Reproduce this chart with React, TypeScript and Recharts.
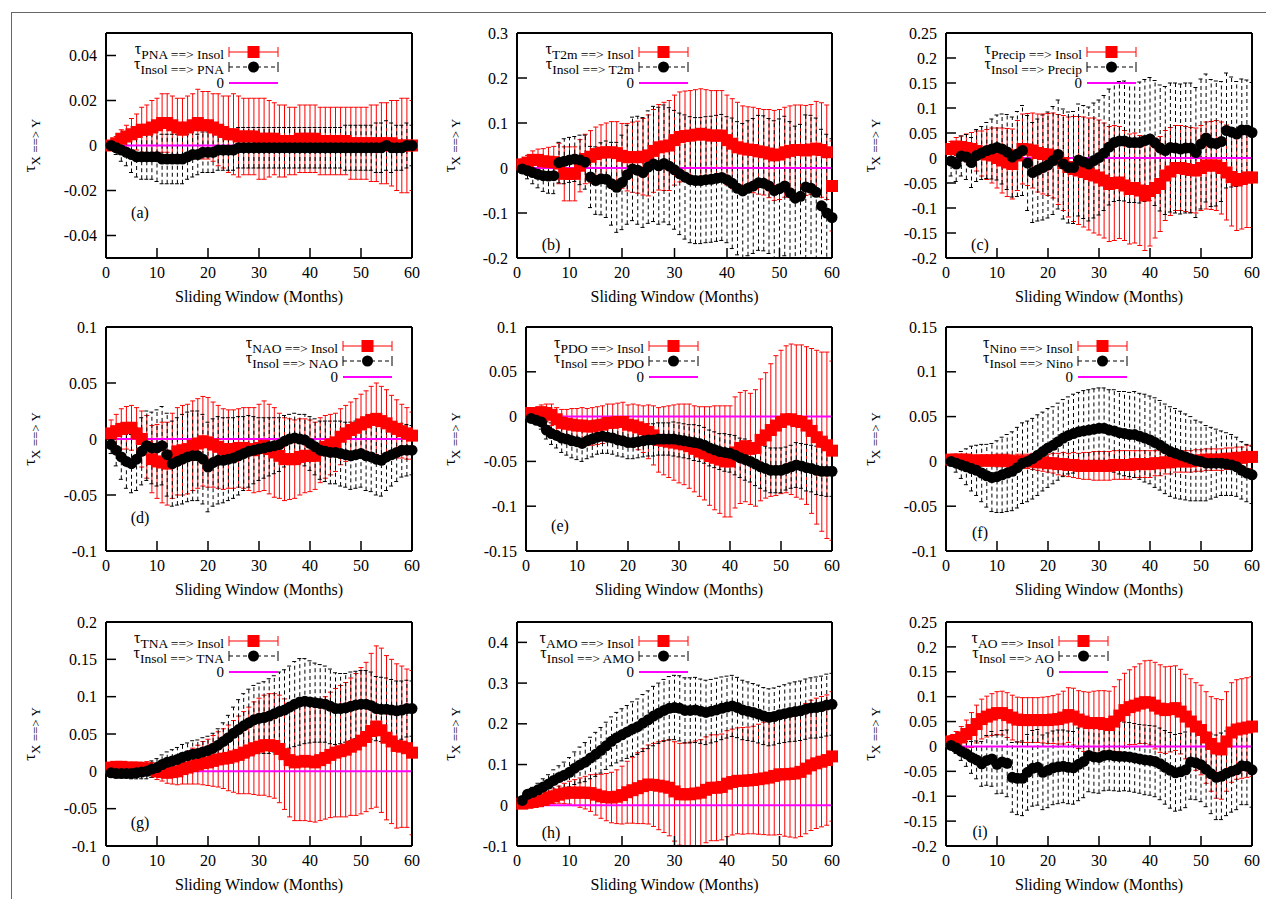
import React from 'react';
import { ComposedChart, Line, XAxis, YAxis, ErrorBar, ReferenceLine } from 'recharts';

// sliding window lengths (months)
const months = [
  1, 2, 3, 4, 5, 6, 7, 8, 9, 10, 11, 12, 13, 14, 15, 16, 17, 18, 19, 20,
  21, 22, 23, 24, 25, 26, 27, 28, 29, 30, 31, 32, 33, 34, 35, 36, 37, 38, 39, 40,
  41, 42, 43, 44, 45, 46, 47, 48, 49, 50, 51, 52, 53, 54, 55, 56, 57, 58, 59, 60,
];
const xTicks = [0, 10, 20, 30, 40, 50, 60];

// (a) PNA
const redA = [
  0.000, 0.001, 0.003, 0.004, 0.005, 0.006, 0.007, 0.007, 0.008, 0.009,
  0.010, 0.010, 0.009, 0.008, 0.007, 0.008, 0.009, 0.010, 0.009, 0.009,
  0.008, 0.007, 0.006, 0.005, 0.005, 0.004, 0.004, 0.004, 0.004, 0.003,
  0.003, 0.003, 0.003, 0.002, 0.002, 0.002, 0.002, 0.003, 0.003, 0.003,
  0.003, 0.002, 0.002, 0.002, 0.002, 0.002, 0.002, 0.001, 0.001, 0.001,
  0.001, 0.001, 0.001, 0.001, 0.001, 0.001, 0.000, 0.000, 0.000, 0.000,
];
const redErrA = [
  0.002, 0.003, 0.004, 0.005, 0.007, 0.008, 0.010, 0.011, 0.012, 0.012,
  0.013, 0.013, 0.013, 0.013, 0.014, 0.014, 0.014, 0.015, 0.015, 0.015,
  0.015, 0.016, 0.016, 0.017, 0.018, 0.018, 0.017, 0.017, 0.017, 0.018,
  0.018, 0.017, 0.016, 0.016, 0.016, 0.015, 0.015, 0.015, 0.015, 0.015,
  0.015, 0.015, 0.015, 0.015, 0.015, 0.015, 0.015, 0.016, 0.016, 0.016,
  0.016, 0.017, 0.017, 0.018, 0.018, 0.019, 0.020, 0.021, 0.021, 0.020,
];
const blackA = [
  0.000, -0.001, -0.002, -0.003, -0.004, -0.005, -0.005, -0.005, -0.005, -0.005,
  -0.006, -0.006, -0.006, -0.006, -0.006, -0.005, -0.004, -0.004, -0.003, -0.003,
  -0.003, -0.002, -0.002, -0.002, -0.002, -0.001, -0.001, -0.001, -0.001, -0.001,
  -0.001, -0.001, -0.001, -0.001, -0.001, -0.001, -0.001, -0.001, -0.001, -0.001,
  -0.001, -0.001, -0.001, -0.001, -0.001, -0.001, -0.001, -0.001, -0.001, -0.001,
  -0.001, -0.001, -0.001, -0.001, 0.000, -0.001, -0.001, -0.001, 0.000, 0.000,
];
const blackErrA = [
  0.002, 0.003, 0.005, 0.006, 0.008, 0.009, 0.010, 0.010, 0.010, 0.011,
  0.011, 0.011, 0.011, 0.011, 0.011, 0.010, 0.010, 0.009, 0.009, 0.009,
  0.009, 0.009, 0.009, 0.009, 0.009, 0.009, 0.009, 0.009, 0.009, 0.009,
  0.009, 0.009, 0.009, 0.009, 0.009, 0.009, 0.009, 0.009, 0.009, 0.009,
  0.009, 0.009, 0.009, 0.009, 0.009, 0.009, 0.010, 0.010, 0.010, 0.010,
  0.010, 0.010, 0.011, 0.011, 0.011, 0.011, 0.010, 0.010, 0.010, 0.009,
];

// (b) T2m
const redB = [
  0.008, 0.012, 0.018, 0.018, 0.015, 0.014, 0.013, 0.010, -0.013, -0.013,
  -0.013, 0.005, 0.020, 0.025, 0.031, 0.034, 0.035, 0.035, 0.033, 0.027,
  0.024, 0.024, 0.024, 0.025, 0.028, 0.038, 0.046, 0.048, 0.050, 0.062,
  0.069, 0.071, 0.072, 0.074, 0.076, 0.074, 0.072, 0.072, 0.072, 0.062,
  0.054, 0.046, 0.043, 0.041, 0.040, 0.037, 0.035, 0.032, 0.028, 0.030,
  0.035, 0.038, 0.040, 0.040, 0.039, 0.041, 0.043, 0.040, 0.035, -0.040,
];
const redErrB = [
  0.012, 0.016, 0.020, 0.024, 0.028, 0.032, 0.035, 0.045, 0.060, 0.060,
  0.060, 0.058, 0.055, 0.058, 0.060, 0.062, 0.065, 0.068, 0.070, 0.072,
  0.075, 0.078, 0.080, 0.085, 0.090, 0.092, 0.095, 0.098, 0.100, 0.100,
  0.100, 0.100, 0.100, 0.100, 0.100, 0.100, 0.100, 0.100, 0.100, 0.100,
  0.100, 0.100, 0.095, 0.095, 0.095, 0.095, 0.095, 0.098, 0.100, 0.100,
  0.100, 0.100, 0.100, 0.100, 0.100, 0.100, 0.105, 0.105, 0.105, 0.100,
];
const blackB = [
  -0.002, -0.006, -0.010, -0.014, -0.017, -0.018, -0.017, 0.012, 0.015, 0.018,
  0.020, 0.018, 0.013, -0.020, -0.028, -0.024, -0.025, -0.035, -0.043, -0.032,
  -0.015, -0.002, -0.005, -0.010, 0.002, 0.009, 0.005, 0.010, 0.004, -0.004,
  -0.013, -0.020, -0.026, -0.028, -0.028, -0.026, -0.025, -0.023, -0.021, -0.026,
  -0.034, -0.045, -0.051, -0.045, -0.040, -0.033, -0.034, -0.040, -0.050, -0.046,
  -0.040, -0.055, -0.067, -0.063, -0.042, -0.045, -0.054, -0.084, -0.100, -0.110,
];
const blackErrB = [
  0.010, 0.018, 0.025, 0.030, 0.035, 0.038, 0.040, 0.045, 0.050, 0.050,
  0.050, 0.055, 0.060, 0.068, 0.075, 0.080, 0.085, 0.092, 0.100, 0.105,
  0.110, 0.115, 0.120, 0.122, 0.125, 0.128, 0.130, 0.130, 0.130, 0.132,
  0.135, 0.138, 0.140, 0.140, 0.140, 0.140, 0.140, 0.140, 0.140, 0.140,
  0.145, 0.148, 0.150, 0.150, 0.150, 0.150, 0.150, 0.150, 0.155, 0.155,
  0.155, 0.158, 0.160, 0.160, 0.160, 0.162, 0.165, 0.170, 0.175, 0.175,
];

// (c) Precip
const redC = [
  0.018, 0.023, 0.022, 0.020, 0.018, 0.014, 0.009, 0.007, 0.005, 0.000,
  -0.005, -0.009, -0.012, 0.005, 0.018, 0.017, 0.015, 0.010, 0.008, 0.007,
  0.005, -0.003, -0.010, -0.018, -0.022, -0.025, -0.028, -0.032, -0.035, -0.039,
  -0.045, -0.052, -0.050, -0.049, -0.055, -0.062, -0.060, -0.065, -0.075, -0.066,
  -0.060, -0.052, -0.035, -0.027, -0.020, -0.020, -0.022, -0.024, -0.025, -0.020,
  -0.015, -0.015, -0.015, -0.020, -0.029, -0.038, -0.045, -0.042, -0.039, -0.039,
];
const redErrC = [
  0.015, 0.018, 0.022, 0.028, 0.033, 0.040, 0.045, 0.050, 0.055, 0.060,
  0.065, 0.068, 0.070, 0.070, 0.070, 0.072, 0.075, 0.078, 0.080, 0.082,
  0.085, 0.090, 0.095, 0.100, 0.105, 0.108, 0.110, 0.112, 0.115, 0.115,
  0.115, 0.115, 0.115, 0.112, 0.110, 0.110, 0.110, 0.110, 0.110, 0.110,
  0.100, 0.095, 0.090, 0.088, 0.085, 0.085, 0.085, 0.085, 0.085, 0.085,
  0.087, 0.088, 0.090, 0.092, 0.095, 0.098, 0.100, 0.100, 0.100, 0.100,
];
const blackC = [
  -0.006, -0.012, 0.004, 0.002, -0.009, 0.005, 0.010, 0.015, 0.018, 0.021,
  0.018, 0.012, 0.002, 0.008, 0.015, -0.010, -0.029, -0.024, -0.019, -0.014,
  -0.005, 0.007, -0.012, -0.019, -0.019, -0.004, -0.008, -0.012, -0.005, 0.001,
  0.010, 0.022, 0.031, 0.034, 0.034, 0.031, 0.031, 0.031, 0.035, 0.038,
  0.030, 0.020, 0.015, 0.021, 0.020, 0.018, 0.020, 0.020, 0.011, 0.028,
  0.040, 0.030, 0.029, 0.033, 0.055, 0.052, 0.048, 0.056, 0.056, 0.051,
];
const blackErrC = [
  0.030, 0.035, 0.040, 0.045, 0.050, 0.052, 0.053, 0.056, 0.060, 0.065,
  0.070, 0.075, 0.080, 0.085, 0.090, 0.095, 0.100, 0.102, 0.105, 0.106,
  0.108, 0.109, 0.110, 0.111, 0.112, 0.112, 0.113, 0.114, 0.115, 0.115,
  0.115, 0.116, 0.118, 0.119, 0.120, 0.120, 0.120, 0.121, 0.122, 0.123,
  0.125, 0.126, 0.128, 0.129, 0.130, 0.130, 0.130, 0.130, 0.130, 0.130,
  0.128, 0.127, 0.125, 0.120, 0.115, 0.110, 0.105, 0.102, 0.100, 0.100,
];

// (d) NAO
const redD = [
  0.005, 0.007, 0.009, 0.010, 0.010, 0.005, 0.000, -0.007, -0.018, -0.020,
  -0.021, -0.022, -0.015, -0.011, -0.010, -0.009, -0.006, -0.004, -0.002, -0.003,
  -0.005, -0.007, -0.009, -0.009, -0.009, -0.008, -0.008, -0.009, -0.010, -0.008,
  -0.006, -0.009, -0.012, -0.015, -0.018, -0.018, -0.018, -0.016, -0.015, -0.015,
  -0.015, -0.010, -0.007, -0.005, -0.003, 0.002, 0.005, 0.008, 0.010, 0.013,
  0.015, 0.017, 0.018, 0.016, 0.014, 0.011, 0.009, 0.007, 0.005, 0.003,
];
const redErrD = [
  0.012, 0.015, 0.018, 0.019, 0.020, 0.023, 0.025, 0.028, 0.030, 0.033,
  0.036, 0.037, 0.038, 0.039, 0.040, 0.040, 0.040, 0.040, 0.040, 0.040,
  0.038, 0.037, 0.036, 0.035, 0.035, 0.035, 0.036, 0.037, 0.038, 0.039,
  0.040, 0.040, 0.040, 0.038, 0.037, 0.036, 0.035, 0.034, 0.033, 0.032,
  0.030, 0.029, 0.028, 0.027, 0.026, 0.025, 0.025, 0.025, 0.026, 0.027,
  0.028, 0.030, 0.032, 0.031, 0.030, 0.028, 0.026, 0.024, 0.023, 0.021,
];
const blackD = [
  -0.005, -0.010, -0.016, -0.020, -0.022, -0.018, -0.011, -0.006, -0.008, -0.008,
  -0.006, -0.014, -0.022, -0.020, -0.018, -0.016, -0.015, -0.015, -0.018, -0.025,
  -0.021, -0.019, -0.019, -0.018, -0.017, -0.015, -0.013, -0.011, -0.010, -0.009,
  -0.008, -0.007, -0.006, -0.005, -0.002, 0.000, 0.001, 0.000, -0.001, -0.004,
  -0.007, -0.010, -0.011, -0.012, -0.012, -0.013, -0.014, -0.015, -0.014, -0.013,
  -0.015, -0.016, -0.018, -0.019, -0.016, -0.014, -0.012, -0.010, -0.010, -0.010,
];
const blackErrD = [
  0.008, 0.014, 0.020, 0.024, 0.026, 0.028, 0.030, 0.031, 0.032, 0.034,
  0.035, 0.037, 0.038, 0.039, 0.040, 0.040, 0.040, 0.040, 0.040, 0.040,
  0.039, 0.039, 0.038, 0.037, 0.036, 0.035, 0.033, 0.032, 0.030, 0.028,
  0.027, 0.026, 0.025, 0.024, 0.023, 0.022, 0.022, 0.022, 0.023, 0.024,
  0.025, 0.026, 0.027, 0.028, 0.028, 0.029, 0.029, 0.030, 0.030, 0.030,
  0.031, 0.031, 0.032, 0.032, 0.030, 0.028, 0.026, 0.024, 0.023, 0.022,
];

// (e) PDO
const redE = [
  0.004, 0.004, 0.005, 0.004, 0.002, -0.003, -0.007, -0.008, -0.009, -0.010,
  -0.010, -0.011, -0.011, -0.010, -0.009, -0.007, -0.007, -0.006, -0.006, -0.009,
  -0.010, -0.012, -0.014, -0.017, -0.021, -0.026, -0.027, -0.028, -0.029, -0.030,
  -0.031, -0.033, -0.036, -0.039, -0.041, -0.044, -0.046, -0.048, -0.050, -0.050,
  -0.040, -0.035, -0.033, -0.036, -0.035, -0.026, -0.021, -0.015, -0.010, -0.006,
  -0.003, -0.003, -0.005, -0.006, -0.010, -0.016, -0.023, -0.028, -0.032, -0.038,
];
const redErrE = [
  0.004, 0.006, 0.008, 0.010, 0.012, 0.013, 0.015, 0.016, 0.018, 0.019,
  0.020, 0.020, 0.021, 0.021, 0.021, 0.021, 0.021, 0.021, 0.022, 0.022,
  0.024, 0.025, 0.026, 0.030, 0.033, 0.036, 0.038, 0.040, 0.042, 0.044,
  0.045, 0.047, 0.048, 0.050, 0.052, 0.055, 0.058, 0.060, 0.062, 0.062,
  0.062, 0.062, 0.062, 0.062, 0.065, 0.068, 0.070, 0.074, 0.078, 0.080,
  0.082, 0.084, 0.085, 0.086, 0.088, 0.092, 0.097, 0.100, 0.104, 0.100,
];
const blackE = [
  -0.002, -0.004, -0.006, -0.015, -0.019, -0.021, -0.024, -0.025, -0.027, -0.028,
  -0.030, -0.027, -0.025, -0.023, -0.022, -0.023, -0.024, -0.026, -0.027, -0.029,
  -0.029, -0.028, -0.027, -0.026, -0.026, -0.025, -0.025, -0.025, -0.025, -0.026,
  -0.027, -0.028, -0.029, -0.030, -0.032, -0.035, -0.037, -0.039, -0.040, -0.041,
  -0.043, -0.046, -0.048, -0.050, -0.053, -0.056, -0.058, -0.060, -0.060, -0.060,
  -0.058, -0.056, -0.054, -0.055, -0.057, -0.058, -0.060, -0.061, -0.061, -0.061,
];
const blackErrE = [
  0.003, 0.005, 0.008, 0.010, 0.012, 0.014, 0.016, 0.018, 0.019, 0.020,
  0.020, 0.020, 0.020, 0.019, 0.019, 0.018, 0.018, 0.018, 0.018, 0.018,
  0.018, 0.018, 0.018, 0.018, 0.018, 0.018, 0.018, 0.018, 0.019, 0.019,
  0.019, 0.019, 0.020, 0.020, 0.020, 0.020, 0.020, 0.020, 0.021, 0.021,
  0.022, 0.022, 0.023, 0.023, 0.024, 0.024, 0.025, 0.025, 0.025, 0.025,
  0.024, 0.024, 0.025, 0.025, 0.026, 0.026, 0.027, 0.027, 0.028, 0.028,
];

// (f) Nino
const redF = [
  0.002, 0.002, 0.002, 0.002, 0.001, 0.001, 0.001, 0.001, 0.001, 0.001,
  0.001, 0.001, 0.000, 0.000, 0.000, 0.000, 0.000, -0.001, -0.001, -0.002,
  -0.002, -0.003, -0.003, -0.004, -0.004, -0.005, -0.005, -0.005, -0.005, -0.005,
  -0.005, -0.005, -0.004, -0.004, -0.004, -0.004, -0.003, -0.003, -0.003, -0.003,
  -0.002, -0.002, -0.001, -0.001, 0.000, 0.000, 0.000, 0.000, 0.001, 0.001,
  0.002, 0.002, 0.002, 0.002, 0.003, 0.003, 0.004, 0.004, 0.005, 0.005,
];
const redErrF = [
  0.003, 0.003, 0.004, 0.004, 0.005, 0.005, 0.006, 0.006, 0.006, 0.007,
  0.007, 0.007, 0.007, 0.008, 0.008, 0.008, 0.009, 0.009, 0.010, 0.010,
  0.011, 0.012, 0.013, 0.013, 0.014, 0.014, 0.015, 0.015, 0.016, 0.016,
  0.016, 0.016, 0.016, 0.016, 0.016, 0.016, 0.015, 0.015, 0.015, 0.015,
  0.014, 0.014, 0.013, 0.013, 0.012, 0.012, 0.012, 0.012, 0.012, 0.012,
  0.012, 0.012, 0.012, 0.012, 0.012, 0.012, 0.012, 0.012, 0.013, 0.013,
];
const blackF = [
  0.000, -0.002, -0.004, -0.006, -0.008, -0.010, -0.013, -0.016, -0.018, -0.017,
  -0.015, -0.013, -0.011, -0.007, -0.002, 0.000, 0.003, 0.007, 0.011, 0.015,
  0.018, 0.022, 0.026, 0.029, 0.031, 0.033, 0.034, 0.035, 0.036, 0.037,
  0.037, 0.035, 0.034, 0.032, 0.031, 0.030, 0.030, 0.028, 0.026, 0.024,
  0.021, 0.018, 0.014, 0.011, 0.009, 0.007, 0.005, 0.003, 0.001, 0.000,
  -0.002, -0.002, -0.002, -0.002, -0.003, -0.004, -0.006, -0.010, -0.013, -0.015,
];
const blackErrF = [
  0.005, 0.010, 0.015, 0.020, 0.025, 0.028, 0.032, 0.035, 0.038, 0.040,
  0.042, 0.043, 0.044, 0.045, 0.045, 0.045, 0.045, 0.045, 0.044, 0.044,
  0.043, 0.043, 0.043, 0.043, 0.044, 0.044, 0.045, 0.045, 0.045, 0.045,
  0.045, 0.045, 0.046, 0.046, 0.047, 0.047, 0.048, 0.048, 0.049, 0.049,
  0.050, 0.050, 0.050, 0.050, 0.050, 0.049, 0.048, 0.047, 0.045, 0.044,
  0.042, 0.040, 0.038, 0.036, 0.035, 0.034, 0.033, 0.032, 0.032, 0.032,
];

// (g) TNA
const redG = [
  0.005, 0.006, 0.006, 0.005, 0.005, 0.005, 0.004, 0.004, 0.002, 0.000,
  -0.001, -0.002, -0.001, 0.000, 0.003, 0.005, 0.007, 0.009, 0.011, 0.012,
  0.014, 0.016, 0.017, 0.018, 0.020, 0.022, 0.025, 0.028, 0.031, 0.033,
  0.035, 0.035, 0.034, 0.030, 0.023, 0.015, 0.012, 0.013, 0.014, 0.013,
  0.012, 0.015, 0.018, 0.022, 0.025, 0.027, 0.029, 0.033, 0.036, 0.041,
  0.046, 0.054, 0.060, 0.055, 0.045, 0.040, 0.034, 0.033, 0.031, 0.025,
];
const redErrG = [
  0.003, 0.004, 0.005, 0.005, 0.006, 0.007, 0.008, 0.009, 0.010, 0.011,
  0.012, 0.014, 0.016, 0.018, 0.020, 0.022, 0.024, 0.026, 0.029, 0.031,
  0.034, 0.037, 0.040, 0.044, 0.048, 0.052, 0.055, 0.058, 0.062, 0.065,
  0.067, 0.069, 0.070, 0.072, 0.074, 0.076, 0.078, 0.079, 0.080, 0.080,
  0.080, 0.081, 0.082, 0.084, 0.086, 0.088, 0.090, 0.092, 0.095, 0.098,
  0.100, 0.104, 0.108, 0.110, 0.110, 0.110, 0.110, 0.108, 0.106, 0.110,
];
const blackG = [
  -0.002, -0.003, -0.003, -0.003, -0.003, -0.002, -0.001, 0.000, 0.003, 0.005,
  0.009, 0.012, 0.014, 0.016, 0.019, 0.021, 0.023, 0.024, 0.026, 0.028,
  0.031, 0.035, 0.040, 0.045, 0.051, 0.056, 0.061, 0.065, 0.069, 0.071,
  0.072, 0.074, 0.077, 0.080, 0.082, 0.086, 0.090, 0.093, 0.094, 0.093,
  0.092, 0.091, 0.090, 0.087, 0.084, 0.084, 0.085, 0.087, 0.089, 0.090,
  0.090, 0.088, 0.084, 0.083, 0.083, 0.082, 0.081, 0.082, 0.084, 0.084,
];
const blackErrG = [
  0.001, 0.002, 0.004, 0.005, 0.007, 0.008, 0.009, 0.010, 0.011, 0.012,
  0.013, 0.014, 0.015, 0.016, 0.017, 0.017, 0.018, 0.018, 0.019, 0.019,
  0.020, 0.022, 0.025, 0.030, 0.035, 0.040, 0.043, 0.045, 0.046, 0.047,
  0.048, 0.050, 0.051, 0.053, 0.054, 0.055, 0.057, 0.058, 0.057, 0.055,
  0.053, 0.052, 0.051, 0.050, 0.048, 0.047, 0.046, 0.046, 0.045, 0.045,
  0.045, 0.045, 0.043, 0.043, 0.042, 0.041, 0.040, 0.039, 0.038, 0.037,
];

// (h) AMO
const redH = [
  0.004, 0.006, 0.008, 0.010, 0.013, 0.018, 0.022, 0.026, 0.029, 0.031,
  0.031, 0.031, 0.031, 0.030, 0.026, 0.022, 0.020, 0.019, 0.021, 0.025,
  0.032, 0.037, 0.042, 0.047, 0.051, 0.050, 0.048, 0.046, 0.043, 0.034,
  0.027, 0.027, 0.027, 0.029, 0.031, 0.038, 0.043, 0.043, 0.045, 0.053,
  0.057, 0.060, 0.060, 0.061, 0.062, 0.064, 0.066, 0.068, 0.072, 0.076,
  0.076, 0.077, 0.078, 0.082, 0.090, 0.098, 0.103, 0.107, 0.111, 0.120,
];
const redErrH = [
  0.004, 0.006, 0.008, 0.010, 0.012, 0.015, 0.018, 0.021, 0.025, 0.028,
  0.032, 0.036, 0.040, 0.045, 0.050, 0.054, 0.058, 0.062, 0.066, 0.071,
  0.076, 0.081, 0.087, 0.092, 0.097, 0.102, 0.108, 0.113, 0.118, 0.122,
  0.125, 0.126, 0.128, 0.129, 0.130, 0.130, 0.130, 0.130, 0.130, 0.130,
  0.130, 0.130, 0.131, 0.131, 0.132, 0.135, 0.138, 0.141, 0.145, 0.148,
  0.152, 0.155, 0.158, 0.159, 0.160, 0.160, 0.160, 0.160, 0.160, 0.159,
];
const blackH = [
  0.012, 0.027, 0.032, 0.038, 0.045, 0.052, 0.061, 0.068, 0.074, 0.081,
  0.091, 0.099, 0.106, 0.116, 0.125, 0.135, 0.146, 0.157, 0.166, 0.173,
  0.180, 0.187, 0.193, 0.202, 0.210, 0.219, 0.226, 0.233, 0.238, 0.240,
  0.238, 0.233, 0.233, 0.234, 0.231, 0.228, 0.231, 0.234, 0.238, 0.241,
  0.244, 0.240, 0.234, 0.231, 0.228, 0.224, 0.219, 0.216, 0.218, 0.222,
  0.225, 0.228, 0.230, 0.232, 0.236, 0.239, 0.240, 0.242, 0.246, 0.248,
];
const blackErrH = [
  0.005, 0.009, 0.012, 0.016, 0.020, 0.023, 0.026, 0.029, 0.032, 0.036,
  0.040, 0.044, 0.048, 0.051, 0.054, 0.056, 0.058, 0.060, 0.062, 0.064,
  0.065, 0.067, 0.068, 0.070, 0.071, 0.073, 0.074, 0.076, 0.078, 0.079,
  0.080, 0.080, 0.080, 0.080, 0.079, 0.079, 0.078, 0.078, 0.077, 0.076,
  0.075, 0.074, 0.073, 0.072, 0.071, 0.071, 0.070, 0.070, 0.070, 0.070,
  0.071, 0.072, 0.073, 0.073, 0.074, 0.074, 0.075, 0.075, 0.076, 0.076,
];

// (i) AO
const redI = [
  0.010, 0.013, 0.018, 0.025, 0.033, 0.045, 0.055, 0.060, 0.064, 0.067,
  0.067, 0.063, 0.058, 0.054, 0.053, 0.053, 0.053, 0.053, 0.053, 0.053,
  0.054, 0.055, 0.058, 0.063, 0.060, 0.054, 0.050, 0.047, 0.047, 0.047,
  0.045, 0.043, 0.050, 0.062, 0.073, 0.079, 0.082, 0.086, 0.089, 0.088,
  0.082, 0.076, 0.073, 0.075, 0.077, 0.070, 0.060, 0.050, 0.040, 0.033,
  0.018, 0.005, -0.004, -0.006, 0.010, 0.028, 0.034, 0.036, 0.038, 0.040,
];
const redErrI = [
  0.012, 0.017, 0.022, 0.028, 0.035, 0.038, 0.040, 0.041, 0.042, 0.043,
  0.044, 0.045, 0.045, 0.045, 0.045, 0.045, 0.045, 0.045, 0.046, 0.047,
  0.048, 0.050, 0.053, 0.055, 0.057, 0.058, 0.060, 0.062, 0.064, 0.065,
  0.067, 0.068, 0.070, 0.072, 0.074, 0.075, 0.078, 0.080, 0.083, 0.085,
  0.087, 0.088, 0.087, 0.086, 0.085, 0.085, 0.085, 0.086, 0.088, 0.090,
  0.092, 0.095, 0.100, 0.100, 0.100, 0.100, 0.100, 0.100, 0.100, 0.100,
];
const blackI = [
  0.002, -0.003, -0.010, -0.015, -0.022, -0.027, -0.035, -0.028, -0.025, -0.036,
  -0.031, -0.034, -0.062, -0.064, -0.064, -0.052, -0.044, -0.042, -0.052, -0.048,
  -0.043, -0.041, -0.040, -0.042, -0.043, -0.036, -0.030, -0.018, -0.021, -0.022,
  -0.018, -0.017, -0.019, -0.020, -0.020, -0.021, -0.023, -0.025, -0.027, -0.028,
  -0.030, -0.035, -0.042, -0.048, -0.053, -0.051, -0.047, -0.031, -0.033, -0.037,
  -0.046, -0.055, -0.062, -0.060, -0.054, -0.050, -0.047, -0.039, -0.040, -0.047,
];
const blackErrI = [
  0.005, 0.011, 0.018, 0.025, 0.032, 0.038, 0.045, 0.050, 0.055, 0.059,
  0.063, 0.067, 0.070, 0.073, 0.075, 0.076, 0.076, 0.076, 0.075, 0.075,
  0.074, 0.074, 0.073, 0.073, 0.073, 0.073, 0.073, 0.073, 0.072, 0.072,
  0.071, 0.071, 0.070, 0.070, 0.069, 0.069, 0.069, 0.069, 0.070, 0.070,
  0.071, 0.072, 0.074, 0.076, 0.077, 0.077, 0.076, 0.075, 0.074, 0.074,
  0.075, 0.080, 0.085, 0.087, 0.085, 0.082, 0.080, 0.078, 0.077, 0.075,
];

// y tick labels
const ticksA = [-0.04, -0.02, 0, 0.02, 0.04];
const ticksB = [-0.2, -0.1, 0, 0.1, 0.2, 0.3];
const ticksC = [-0.2, -0.15, -0.1, -0.05, 0, 0.05, 0.1, 0.15, 0.2, 0.25];
const ticksD = [-0.1, -0.05, 0, 0.05, 0.1];
const ticksE = [-0.15, -0.1, -0.05, 0, 0.05, 0.1];
const ticksF = [-0.1, -0.05, 0, 0.05, 0.1, 0.15];
const ticksG = [-0.1, -0.05, 0, 0.05, 0.1, 0.15, 0.2];
const ticksH = [-0.1, 0, 0.1, 0.2, 0.3, 0.4];
const ticksI = [-0.2, -0.15, -0.1, -0.05, 0, 0.05, 0.1, 0.15, 0.2, 0.25];

const panels = [
  { key: 'a', name: 'PNA', red: redA, redErr: redErrA, black: blackA, blackErr: blackErrA, domain: [-0.05, 0.05], ticks: ticksA },
  { key: 'b', name: 'T2m', red: redB, redErr: redErrB, black: blackB, blackErr: blackErrB, domain: [-0.2, 0.3], ticks: ticksB },
  { key: 'c', name: 'Precip', red: redC, redErr: redErrC, black: blackC, blackErr: blackErrC, domain: [-0.2, 0.25], ticks: ticksC },
  { key: 'd', name: 'NAO', red: redD, redErr: redErrD, black: blackD, blackErr: blackErrD, domain: [-0.1, 0.1], ticks: ticksD },
  { key: 'e', name: 'PDO', red: redE, redErr: redErrE, black: blackE, blackErr: blackErrE, domain: [-0.15, 0.1], ticks: ticksE },
  { key: 'f', name: 'Nino', red: redF, redErr: redErrF, black: blackF, blackErr: blackErrF, domain: [-0.1, 0.15], ticks: ticksF },
  { key: 'g', name: 'TNA', red: redG, redErr: redErrG, black: blackG, blackErr: blackErrG, domain: [-0.1, 0.2], ticks: ticksG },
  { key: 'h', name: 'AMO', red: redH, redErr: redErrH, black: blackH, blackErr: blackErrH, domain: [-0.1, 0.45], ticks: ticksH },
  { key: 'i', name: 'AO', red: redI, redErr: redErrI, black: blackI, blackErr: blackErrI, domain: [-0.2, 0.25], ticks: ticksI },
];

// page placement of each plot box, legend and panel letter
const layout: Record<string, any> = {
  a: { left: 106, top: 33, w: 306, h: 225, legendX: 229, letterY: 213, ylabX: 35 },
  b: { left: 517, top: 33, w: 315, h: 225, legendX: 639, letterY: 245, ylabX: 455 },
  c: { left: 946, top: 33, w: 306, h: 225, legendX: 1087, letterY: 245, ylabX: 875 },
  d: { left: 106, top: 327, w: 306, h: 224, legendX: 343, letterY: 518, ylabX: 35 },
  e: { left: 526, top: 327, w: 306, h: 224, legendX: 649, letterY: 526, ylabX: 455 },
  f: { left: 946, top: 327, w: 306, h: 224, legendX: 1078, letterY: 533, ylabX: 875 },
  g: { left: 106, top: 622, w: 306, h: 224, legendX: 229, letterY: 823, ylabX: 35 },
  h: { left: 517, top: 622, w: 315, h: 224, legendX: 639, letterY: 833, ylabX: 455 },
  i: { left: 946, top: 622, w: 306, h: 224, legendX: 1059, letterY: 832, ylabX: 875 },
};

const FONT = '"Liberation Serif", "Times New Roman", Times, serif';
const RED = '#ff0000';
const MAGENTA = '#ff00ff';
const AXIS = { stroke: '#000', strokeWidth: 2 };
const TICK = { stroke: '#000', strokeWidth: 1.5 };
const TICK_TEXT = { fill: '#000', fontSize: 16, fontFamily: FONT };

const ML = 80;
const MT = 10;
const MR = 10;
const MB = 30;

const square = (props: any) => {
  const { cx, cy, key } = props;
  if (cx == null || cy == null) return <g key={key} />;
  return <rect key={key} x={cx - 6} y={cy - 6} width={12} height={12} fill={RED} />;
};

const circle = (props: any) => {
  const { cx, cy, key } = props;
  if (cx == null || cy == null) return <g key={key} />;
  return <circle key={key} cx={cx} cy={cy} r={5.5} fill="#000" />;
};

function Panel({ p }: { p: any }) {
  const L = layout[p.key];
  const rows = months.map((m, i) => ({ m, r: p.red[i], re: p.redErr[i], b: p.black[i], be: p.blackErr[i] }));
  const clip = `url(#plot-clip-${p.key})`;
  return (
    <div style={{ position: 'absolute', left: L.left - ML, top: L.top - MT }}>
      <ComposedChart
        width={ML + L.w + MR}
        height={MT + L.h + MB}
        data={rows}
        margin={{ top: MT - 1, right: MR - 1, bottom: 0, left: 0 }}
      >
        <XAxis xAxisId="b" dataKey="m" type="number" domain={[0, 60]} ticks={xTicks} interval={0} height={MB}
          tickSize={-10} tickMargin={19} axisLine={AXIS} tickLine={TICK} tick={TICK_TEXT} />
        <XAxis xAxisId="t" orientation="top" type="number" domain={[0, 60]} allowDataOverflow ticks={xTicks} interval={0}
          height={1} tickSize={-10} tick={false} axisLine={AXIS} tickLine={TICK} />
        <YAxis yAxisId="err" type="number" domain={p.domain} allowDataOverflow ticks={p.ticks} interval={0} width={ML}
          tickSize={-10} tickMargin={19} axisLine={AXIS} tickLine={TICK} tick={TICK_TEXT} />
        <YAxis yAxisId="r" orientation="right" type="number" domain={p.domain} allowDataOverflow ticks={p.ticks} interval={0}
          width={1} tickSize={-10} tick={false} axisLine={AXIS} tickLine={TICK} />
        <YAxis yAxisId="pts" hide type="number" domain={p.domain} />

        <Line xAxisId="b" yAxisId="err" dataKey="r" stroke="none" dot={false} activeDot={false} isAnimationActive={false}>
          <ErrorBar dataKey="re" direction="y" width={2.5} stroke={RED} strokeWidth={1} clipPath={clip} isAnimationActive={false} />
        </Line>
        <Line xAxisId="b" yAxisId="pts" dataKey="r" stroke="none" dot={square} activeDot={false} isAnimationActive={false} />
        <Line xAxisId="b" yAxisId="err" dataKey="b" stroke="none" dot={false} activeDot={false} isAnimationActive={false}>
          <ErrorBar dataKey="be" direction="y" width={2.5} stroke="#000" strokeWidth={1} strokeDasharray="4 3" clipPath={clip} isAnimationActive={false} />
        </Line>
        <Line xAxisId="b" yAxisId="pts" dataKey="b" stroke="none" dot={circle} activeDot={false} isAnimationActive={false} />
        <ReferenceLine xAxisId="b" yAxisId="err" y={0} stroke={MAGENTA} strokeWidth={2} />
      </ComposedChart>
    </div>
  );
}

function Labels({ p }: { p: any }) {
  const L = layout[p.key];
  const cy = L.top + L.h / 2;
  const sx = L.legendX;
  const r1 = L.top + 19;
  const r2 = L.top + 34;
  const r3 = L.top + 50;
  return (
    <g fontFamily={FONT} fill="#000">
      <text x={L.ylabX} y={cy} transform={`rotate(-90 ${L.ylabX} ${cy})`} textAnchor="middle">
        <tspan fontSize={17}>τ</tspan>
        <tspan fontSize={13} dy={5}>{'X ==> Y'}</tspan>
      </text>
      <text x={L.left + L.w / 2} y={L.top + L.h + 44} textAnchor="middle" fontSize={16}>Sliding Window (Months)</text>
      <text x={L.left + 34} y={L.letterY + 5} textAnchor="middle" fontSize={16}>({p.key})</text>

      <text x={sx - 5} y={r1 + 1.5} textAnchor="end">
        <tspan fontSize={16}>τ</tspan>
        <tspan fontSize={13.5} dy={5}>{`${p.name} ==> Insol`}</tspan>
      </text>
      <line x1={sx} y1={r1} x2={sx + 49} y2={r1} stroke={RED} strokeWidth={1} />
      <line x1={sx} y1={r1 - 5} x2={sx} y2={r1 + 5} stroke={RED} strokeWidth={1} />
      <line x1={sx + 49} y1={r1 - 5} x2={sx + 49} y2={r1 + 5} stroke={RED} strokeWidth={1} />
      <rect x={sx + 24.5 - 6} y={r1 - 6} width={12} height={12} fill={RED} />

      <text x={sx - 5} y={r2 + 1.5} textAnchor="end">
        <tspan fontSize={16}>τ</tspan>
        <tspan fontSize={13.5} dy={5}>{`Insol ==> ${p.name}`}</tspan>
      </text>
      <line x1={sx} y1={r2} x2={sx + 49} y2={r2} stroke="#000" strokeWidth={1} strokeDasharray="4 3" />
      <line x1={sx} y1={r2 - 5} x2={sx} y2={r2 + 5} stroke="#000" strokeWidth={1} />
      <line x1={sx + 49} y1={r2 - 5} x2={sx + 49} y2={r2 + 5} stroke="#000" strokeWidth={1} />
      <circle cx={sx + 24.5} cy={r2} r={5.5} fill="#000" />

      <text x={sx - 5} y={r3 + 5} textAnchor="end" fontSize={15}>0</text>
      <line x1={sx} y1={r3} x2={sx + 49} y2={r3} stroke={MAGENTA} strokeWidth={2} />
    </g>
  );
}

export default function App() {
  return (
    <div style={{ position: 'absolute', left: 0, top: 0, width: 1266, height: 899, overflow: 'hidden', background: '#fff' }}>
      <div style={{ position: 'absolute', left: 11, top: 12, width: 2000, height: 2000, border: '1px solid #666' }} />
      <svg width={0} height={0} style={{ position: 'absolute', left: 0, top: 0 }}>
        <defs>
          {panels.map((p) => (
            <clipPath key={p.key} id={`plot-clip-${p.key}`} clipPathUnits="userSpaceOnUse">
              <rect x={ML} y={MT} width={layout[p.key].w} height={layout[p.key].h} />
            </clipPath>
          ))}
        </defs>
      </svg>
      {panels.map((p) => (
        <Panel key={p.key} p={p} />
      ))}
      <svg width={1266} height={899} style={{ position: 'absolute', left: 0, top: 0, pointerEvents: 'none' }}>
        {panels.map((p) => (
          <Labels key={p.key} p={p} />
        ))}
      </svg>
    </div>
  );
}
